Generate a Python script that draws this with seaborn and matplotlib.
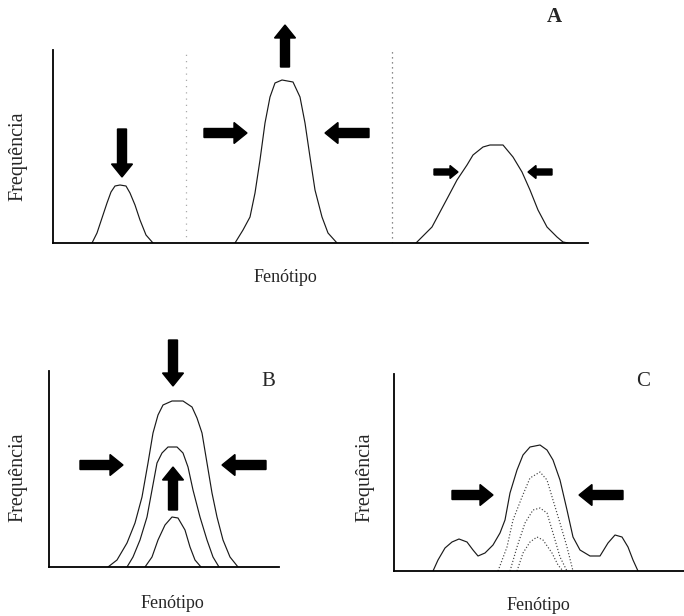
import matplotlib
matplotlib.use("Agg")
import matplotlib.pyplot as plt
import seaborn as sns

sns.set_theme(style="white")
plt.rcParams["font.family"] = ["Liberation Serif", "DejaVu Serif"]

# panel A: three selection curves (phenotype, frequency)
a1_x = [39, 44, 49, 54, 58, 62, 67, 73, 77, 82, 87, 93, 100]
a1_y = [0, 10, 25, 40, 51, 57, 58, 57, 50, 38, 23, 8, 0]
a2_x = [182, 190, 197, 202, 207, 212, 217, 222, 229, 240, 247, 252, 257, 262, 269, 275, 284]
a2_y = [0, 13, 26, 50, 83, 120, 146, 160, 163, 161, 146, 120, 86, 53, 26, 10, 0]
a3_x = [363, 379, 387, 395, 404, 414, 420, 430, 437, 450, 460, 469, 477, 485, 494, 504, 510, 515]
a3_y = [0, 16, 31, 46, 63, 78, 88, 96, 98, 98, 86, 71, 53, 33, 16, 6, 1, 0]
a_dividers = [133, 339]

# panel B: nested curves
b1_x = [59, 68, 78, 86, 93, 99, 104, 109, 114, 123, 134, 143, 148, 153, 158, 163, 168, 174, 181, 189]
b1_y = [0, 7, 24, 44, 70, 104, 134, 152, 162, 166, 166, 160, 149, 134, 104, 74, 50, 27, 10, 0]
b2_x = [78, 84, 91, 98, 103, 108, 113, 119, 128, 134, 139, 144, 151, 158, 164, 170]
b2_y = [0, 10, 27, 50, 77, 104, 114, 120, 120, 114, 100, 77, 50, 27, 10, 0]
b3_x = [96, 103, 109, 116, 123, 129, 136, 141, 146, 152]
b3_y = [0, 10, 27, 42, 50, 49, 37, 20, 7, 0]

# panel C: trimodal curve and dotted inner curves
c1_x = [39, 44, 51, 58, 65, 73, 79, 84, 91, 99, 106, 111, 116, 123, 129, 136, 146, 153, 159, 166,
        173, 179, 186, 196, 206, 214, 221, 228, 234, 239, 244]
c1_y = [0, 11, 23, 29, 32, 29, 21, 15, 18, 26, 38, 51, 78, 101, 116, 124, 126, 121, 111, 91,
        61, 34, 21, 15, 15, 28, 36, 34, 24, 11, 0]
c2_x = [104, 113, 119, 128, 136, 146, 153, 159, 166, 173, 179]
c2_y = [0, 24, 51, 74, 93, 99, 91, 71, 48, 24, 0]
c3_x = [116, 123, 131, 139, 146, 153, 159, 166, 173]
c3_y = [0, 24, 48, 61, 63, 58, 38, 14, 0]
c4_x = [123, 129, 136, 143, 149, 158, 164, 169]
c4_y = [0, 18, 29, 34, 31, 18, 6, 0]

W, H = 684, 616
fig = plt.figure(figsize=(W / 100, H / 100), dpi=100)


def panel(left, top, right, bottom):
    ax = fig.add_axes([left / W, 1 - bottom / H, (right - left) / W, (bottom - top) / H])
    ax.set_xlim(0, right - left)
    ax.set_ylim(0, bottom - top)
    ax.set_xticks([])
    ax.set_yticks([])
    sns.despine(ax=ax)
    for s in ["left", "bottom"]:
        ax.spines[s].set_color("black")
        ax.spines[s].set_linewidth(1.3)
    return ax


def curve(ax, x, y, ls="-", color="#1a1a1a", lw=0.85):
    sns.lineplot(x=x, y=y, ax=ax, color=color, lw=lw, linestyle=ls, sort=False, estimator=None)


def arrow(ax, x0, y0, x1, y1, big=True):
    if big:
        kw = dict(width=9, head_width=21, head_length=13)
    else:
        kw = dict(width=6, head_width=13, head_length=8)
    ax.arrow(x0, y0, x1 - x0, y1 - y0, length_includes_head=True, color="black",
             clip_on=False, **kw)


# panel A
axA = panel(53, 50, 588, 243)
axA.plot([a_dividers[0]] * 2, [0, 195], ls=(0, (1, 4)), color="#aaaaaa", lw=0.9)
axA.plot([a_dividers[1]] * 2, [0, 195], ls=(0, (1, 3)), color="#666666", lw=0.9)
curve(axA, a1_x, a1_y)
curve(axA, a2_x, a2_y)
curve(axA, a3_x, a3_y)
arrow(axA, 69, 114, 69, 66)
arrow(axA, 232, 176, 232, 218)
arrow(axA, 151, 110, 194, 110)
arrow(axA, 316, 110, 272, 110)
arrow(axA, 381, 71, 405, 71, big=False)
arrow(axA, 499, 71, 475, 71, big=False)

# panel B
axB = panel(49, 371, 279, 567)
curve(axB, b1_x, b1_y)
curve(axB, b2_x, b2_y)
curve(axB, b3_x, b3_y)
arrow(axB, 124, 227, 124, 181)
arrow(axB, 124, 57, 124, 100)
arrow(axB, 31, 102, 74, 102)
arrow(axB, 217, 102, 173, 102)

# panel C
axC = panel(394, 374, 684, 571)
curve(axC, c1_x, c1_y)
curve(axC, c2_x, c2_y, ls=":", color="#444444")
curve(axC, c3_x, c3_y, ls=":", color="#444444")
curve(axC, c4_x, c4_y, ls=":", color="#444444")
arrow(axC, 58, 76, 99, 76)
arrow(axC, 229, 76, 185, 76)

# labels
def ftext(x, y, s, **kw):
    fig.text(x / W, 1 - y / H, s, ha="center", va="center", **kw)

ftext(554, 17, "A", fontsize=15, fontweight="bold")
ftext(268, 382, "B", fontsize=15)
ftext(643, 382, "C", fontsize=15)
ftext(18, 156, "Frequência", fontsize=14.5, rotation=90)
ftext(18, 477, "Frequência", fontsize=14.5, rotation=90)
ftext(365, 477, "Frequência", fontsize=14.5, rotation=90)
ftext(285, 278, "Fenótipo", fontsize=13)
ftext(172, 604, "Fenótipo", fontsize=13)
ftext(538, 605, "Fenótipo", fontsize=13)

fig.savefig("out.png", dpi=100, facecolor="white")
